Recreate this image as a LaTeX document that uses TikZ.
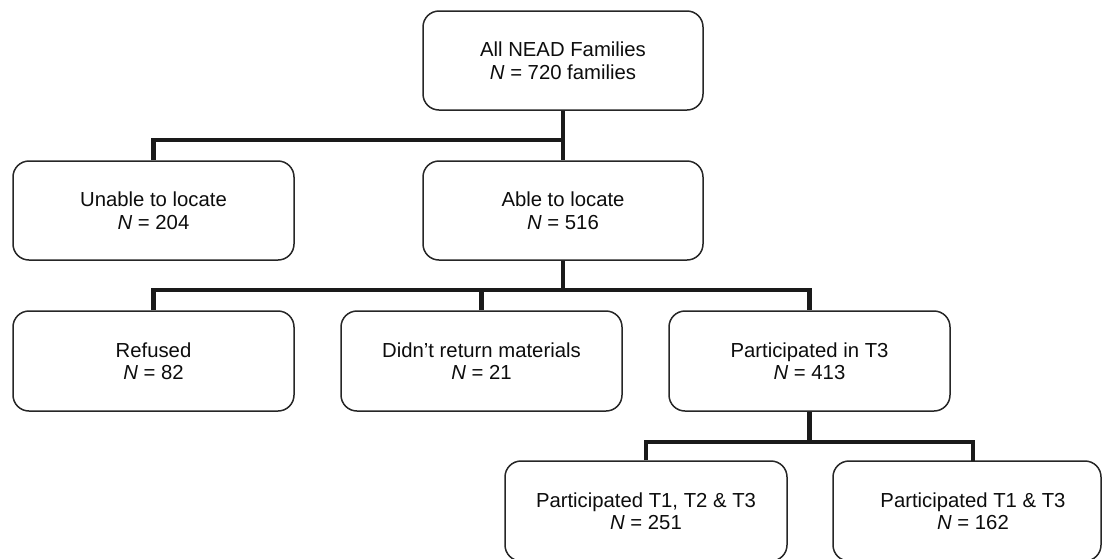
\documentclass[tikz,border=0pt]{standalone}
\usepackage{fontspec}
\setmainfont{Liberation Sans}
\definecolor{boxline}{HTML}{262626}
\definecolor{connline}{HTML}{1A1A1A}
\definecolor{txt}{HTML}{0D0D0D}
\begin{document}
\begin{tikzpicture}[x=1pt,y=-1pt,
  box/.style={draw=boxline, line width=1.5pt, rounded corners=16pt, fill=white,
    minimum width=281pt, minimum height=100pt, align=center, text=txt,
    font=\fontsize{20.3}{22.5}\selectfont, inner sep=0pt},
  conn/.style={draw=connline, line width=4.2pt}]
\useasboundingbox (0,0) rectangle (1103,558);
\node[box, minimum width=280pt, minimum height=99pt] (top) at (563,60.5) {All NEAD Families\\\textit{N} = 720 families};
\node[box, minimum height=99pt] (unable) at (153.5,210.5) {Unable to locate\\\textit{N} = 204};
\node[box, minimum width=280pt, minimum height=99pt] (able) at (563,210.5) {Able to locate\\\textit{N} = 516};
\node[box] (refused) at (153.5,361) {Refused\\\textit{N} = 82};
\node[box] (didnt) at (481.5,361) {Didn’t return materials\\\textit{N} = 21};
\node[box] (t3) at (809.5,361) {Participated in T3\\\textit{N} = 413};
\node[box, minimum width=282pt] (t123) at (646,511) {Participated T1, T2 \& T3\\\textit{N} = 251};
\node[box, minimum width=268pt] (t13) at (967,511) {\hspace*{12pt}Participated T1 \& T3\\\hspace*{12pt}\textit{N} = 162};
\coordinate (b1) at (563,140);
\coordinate (b2) at (563,290);
\coordinate (b3) at (809.5,442);
\coordinate (t13top) at (973,461);
% level 1 -> 2
\draw[conn] (top.south) -- (able.north);
\draw[conn] (unable.north) |- (b1);
% level 2 -> 3
\draw[conn] (able.south) -- (b2);
\draw[conn] (refused.north) |- (t3.north |- b2) -- (t3.north);
\draw[conn] (didnt.north) -- (didnt.north |- b2);
% level 3 -> 4
\draw[conn] (t3.south) -- (b3);
\draw[conn] (t123.north) |- (t13top |- b3) -- (t13top);
\end{tikzpicture}
\end{document}
